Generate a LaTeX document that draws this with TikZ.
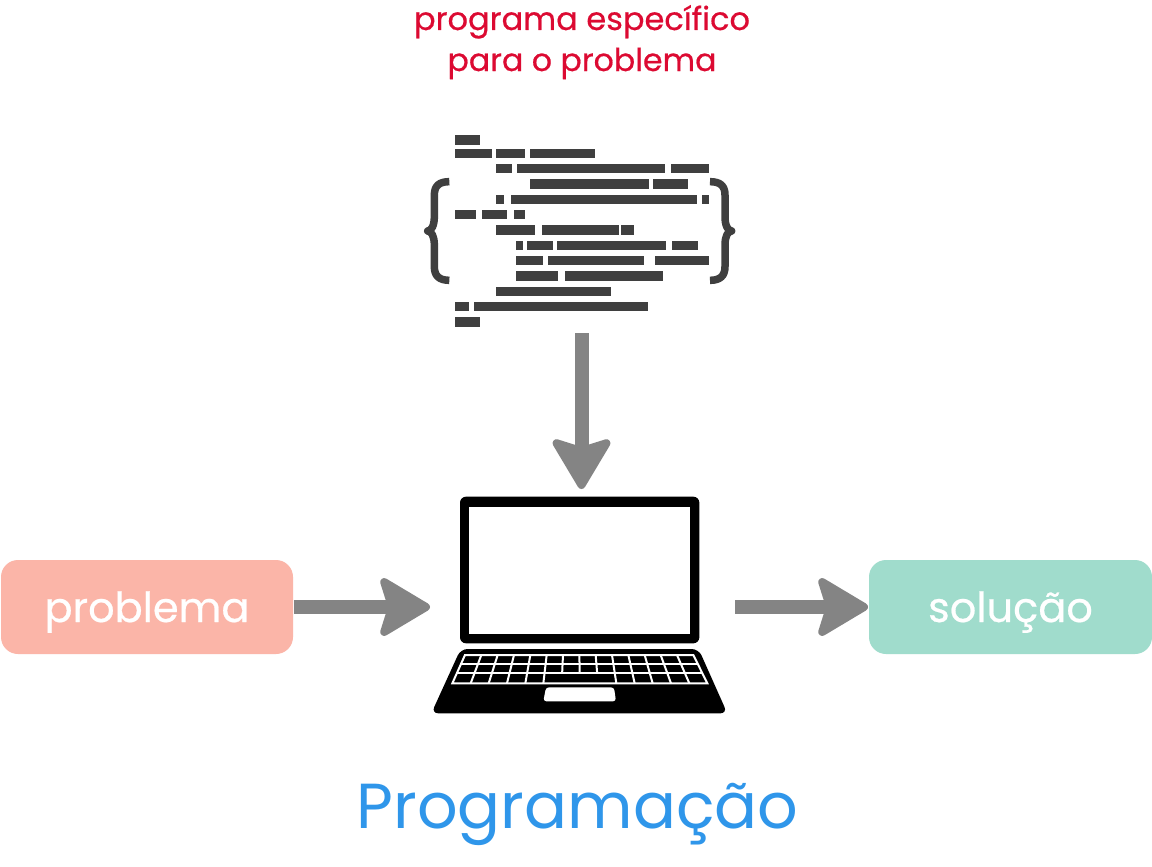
\documentclass[tikz,border=0pt]{standalone}
\usepackage{fontspec}
\setmainfont{Poppins}
\newfontfamily\heavier[FakeBold=0.5]{Poppins}
\usetikzlibrary{arrows.meta}
\definecolor{salmonbox}{HTML}{FBB5A8}
\definecolor{mintbox}{HTML}{A0DCCC}
\definecolor{flowgray}{HTML}{848484}
\definecolor{codegray}{HTML}{3F3F3F}
\definecolor{titleblue}{HTML}{2F96EA}
\definecolor{noteRed}{HTML}{DC0A32}
\newcommand{\codebars}[2]{\foreach \xa/\xb in {#2}{\fill[codegray] (\xa,#1) rectangle (\xb,#1+28);}}
\tikzset{
  x=1pt,y=-1pt,
  outcome/.style={fill=#1,rounded corners=17pt,inner sep=0pt,minimum height=94pt,text height=30pt,text depth=0pt,text=white,font=\heavier\fontsize{41.5}{50}\selectfont,outer sep=1pt},
  flow/.style={draw=flowgray,line width=14pt,-{Stealth[length=56pt,width=66pt,inset=10pt,round,line width=8pt]}},
  bbox/.style={inner sep=0pt,outer sep=0pt},
  keyline/.style={draw=white,line width=2pt},
  brace/.style={draw=codegray,line width=7.5pt,line join=round}
}
\begin{document}
\begin{tikzpicture}
\useasboundingbox (0,0) rectangle (1152,867);
\fill[white] (0,0) rectangle (1152,867);
\node[outcome=salmonbox,minimum width=292pt] (problema) at (147,607) {problema};
\node[outcome=mintbox,minimum width=283pt] (solucao) at (1010.5,607) {solução};
\node[bbox,minimum width=295pt,minimum height=215pt] (laptop) at (579.5,604.5) {};
\node[bbox,minimum width=313pt,minimum height=198pt] (code) at (579.5,234) {};
\node[anchor=base,text=noteRed,font=\heavier\fontsize{32}{36}\selectfont] (note1) at (582,30) {programa específico};
\node[anchor=base,text=noteRed,font=\heavier\fontsize{31.6}{36}\selectfont] (note2) at (582,71) {para o problema};
\node[anchor=base,text=titleblue,font=\fontsize{63.6}{70}\selectfont] (title) at (577.5,828) {Programação};
% code listing
\begin{scope}[shift={(410,120)},scale=1/3]
\codebars{46}{135/210}
\codebars{86}{135/246,257/345,359/556}
\codebars{132}{258/307,322/766,783/896}
\codebars{178}{359/716,730/833}
\codebars{224}{258/283,304/860,875/896}
\codebars{270}{135/198,215/291,313/346}
\codebars{316}{258/376,396/627,633/671}
\codebars{362}{318/338,352/429,441/769,787/864}
\codebars{408}{318/400,415/701,735/896}
\codebars{454}{318/444,466/759}
\codebars{500}{258/604}
\codebars{546}{135/177,193/715}
\codebars{592}{135/210}
\draw[brace] (118,185) .. controls (88,185) and (73,197) .. (73,225) -- (73,290) .. controls (73,315) and (65,333) .. (53,333) .. controls (65,333) and (73,350) .. (73,375) -- (73,440) .. controls (73,468) and (88,481) .. (118,481);
\draw[brace] (900,185) .. controls (930,185) and (945,197) .. (945,225) -- (945,290) .. controls (945,315) and (953,333) .. (965,333) .. controls (953,333) and (945,350) .. (945,375) -- (945,440) .. controls (945,468) and (930,481) .. (900,481);
\end{scope}
% laptop
\begin{scope}[shift={(420,480)},scale=1/3]
\fill[black,rounded corners=6pt] (120,490) -- (120,50) -- (838,50) -- (838,490) -- cycle;
\fill[white] (148,80) rectangle (810,463);
\fill[black,rounded corners=7pt] (122,507) -- (836,507) -- (922,700) -- (34,700) -- cycle;
\draw[keyline] (135,525) -- (820,525) -- (862,610) -- (97,610) -- cycle;
\draw[keyline] (122,552) -- (833,552);
\draw[keyline] (110,580) -- (847,580);
\foreach \t/\b in {184/152,233/206,282/261,331/316,380/370,576/589,625/644,674/698,722/753,771/808}
  \draw[keyline] (\t,525) -- (\b,610);
\foreach \t/\b in {429/425,478/480,527/534}
  \draw[keyline] (\t,525) -- ({\t+(\b-\t)*55/85},580);
\fill[white,rounded corners=3pt] (378,622) -- (582,622) -- (588,664) -- (370,664) -- cycle;
\end{scope}
% connectors
\draw[flow,shorten >=2pt] (problema.east) -- (problema.east -| laptop.west);
\draw[flow,shorten >=8pt] ([xshift=2pt]code.south) -- ([xshift=2pt]code.south |- laptop.north);
\draw[flow] (laptop.east |- solucao.west) ++(8pt,0) -- (solucao.west);
\end{tikzpicture}
\end{document}
